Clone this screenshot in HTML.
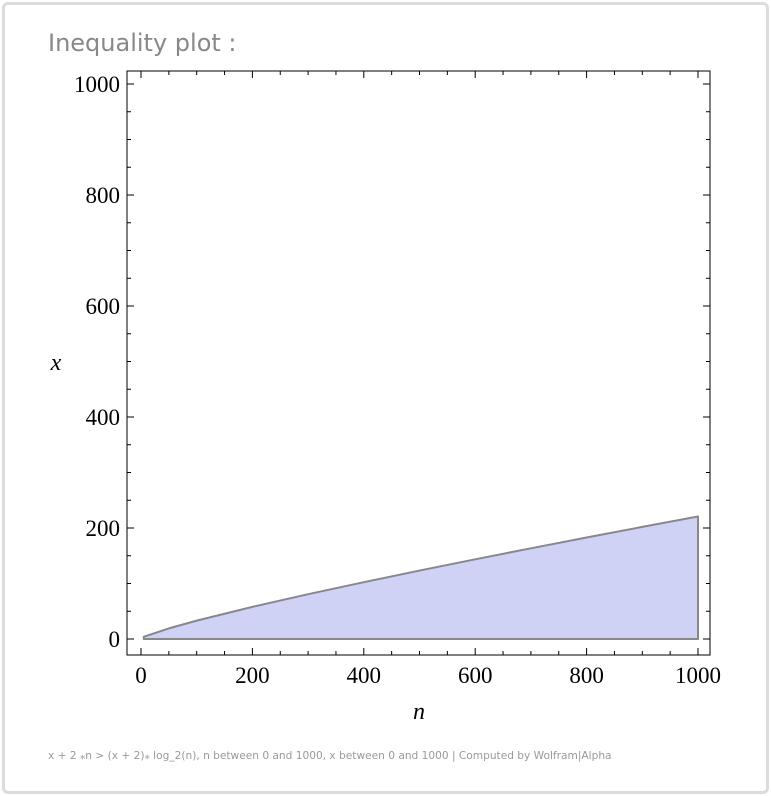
<!DOCTYPE html>
<html><head><meta charset="utf-8">
<style>
body{margin:0;background:#fff;width:771px;height:796px;overflow:hidden;font-family:"DejaVu Sans",sans-serif}
#card{position:absolute;left:2px;top:2px;width:761px;height:786px;border:3px solid #dcdcdc;border-radius:6px;background:#fff}
#title{position:absolute;left:48px;top:29px;font-size:24px;color:#888;font-family:"DejaVu Sans",sans-serif}
#footer{position:absolute;left:48px;top:750px;font-size:10.6px;color:#999;font-family:"DejaVu Sans",sans-serif}
svg{position:absolute;left:0;top:0}
</style></head><body>
<div id="card"></div>
<div id="title">Inequality plot :</div>
<div id="footer">x + 2 ⁎n &gt; (x + 2)⁎ log_2(n), n between 0 and 1000, x between 0 and 1000 | Computed by Wolfram|Alpha</div>
<svg id="chart" width="771" height="796"></svg>
<script>
const nValues=[5,10,50,100,200,300,400,500,600,700,800,900,1000];
const xUpper=[4,5.7,19.1,33.1,57.9,80.7,102.4,123.3,143.6,163.4,182.9,202.0,220.8];
const majorTicks=[0,200,400,600,800,1000];
const minorStep=50;
const svg=document.getElementById('chart');
const NS='http://www.w3.org/2000/svg';
const L=127,R=710,T=71,B=655;
const sx=v=>141+v*(698-141)/1000;
const sy=v=>639-v*(639-84)/1000;
function mk(tag,attrs){const e=document.createElementNS(NS,tag);for(const k in attrs)e.setAttribute(k,attrs[k]);svg.appendChild(e);return e;}
let d='M'+sx(nValues[0])+','+sy(0);
nValues.forEach((n,i)=>{d+=' L'+sx(n)+','+sy(xUpper[i]);});
d+=' L'+sx(nValues[nValues.length-1])+','+sy(0)+' Z';
const reg=mk('path',{d:d,fill:'#cfd2f5',stroke:'#888','stroke-width':2,'stroke-linejoin':'round'});


const fr=mk('rect',{x:L,y:T,width:R-L,height:B-T,fill:'none',stroke:'#000','stroke-width':1});


for(let v=0;v<=1000;v+=minorStep){
  const major=majorTicks.includes(v);const len=major?7:4;
  const X=sx(v),Y=sy(v);
  mk('line',{x1:X,y1:B,x2:X,y2:B-len,stroke:'#000'});
  mk('line',{x1:X,y1:T,x2:X,y2:T+len,stroke:'#000'});
  mk('line',{x1:L,y1:Y,x2:L+len,y2:Y,stroke:'#000'});
  mk('line',{x1:R,y1:Y,x2:R-len,y2:Y,stroke:'#000'});
}
majorTicks.forEach(v=>{
  const t1=mk('text',{x:sx(v),y:683,'text-anchor':'middle','font-family':'Liberation Serif,serif','font-size':23});
  t1.textContent=v;
  
  
  const t2=mk('text',{x:120,y:sy(v)+8,'text-anchor':'end','font-family':'Liberation Serif,serif','font-size':23});
  t2.textContent=v;
  
  
});
const xl=mk('text',{x:419,y:719,'text-anchor':'middle','font-family':'Liberation Serif,serif','font-style':'italic','font-size':24});
xl.textContent='n';


const yl=mk('text',{x:56,y:370,'text-anchor':'middle','font-family':'Liberation Serif,serif','font-style':'italic','font-size':24});
yl.textContent='x';


</script>
</body></html>
